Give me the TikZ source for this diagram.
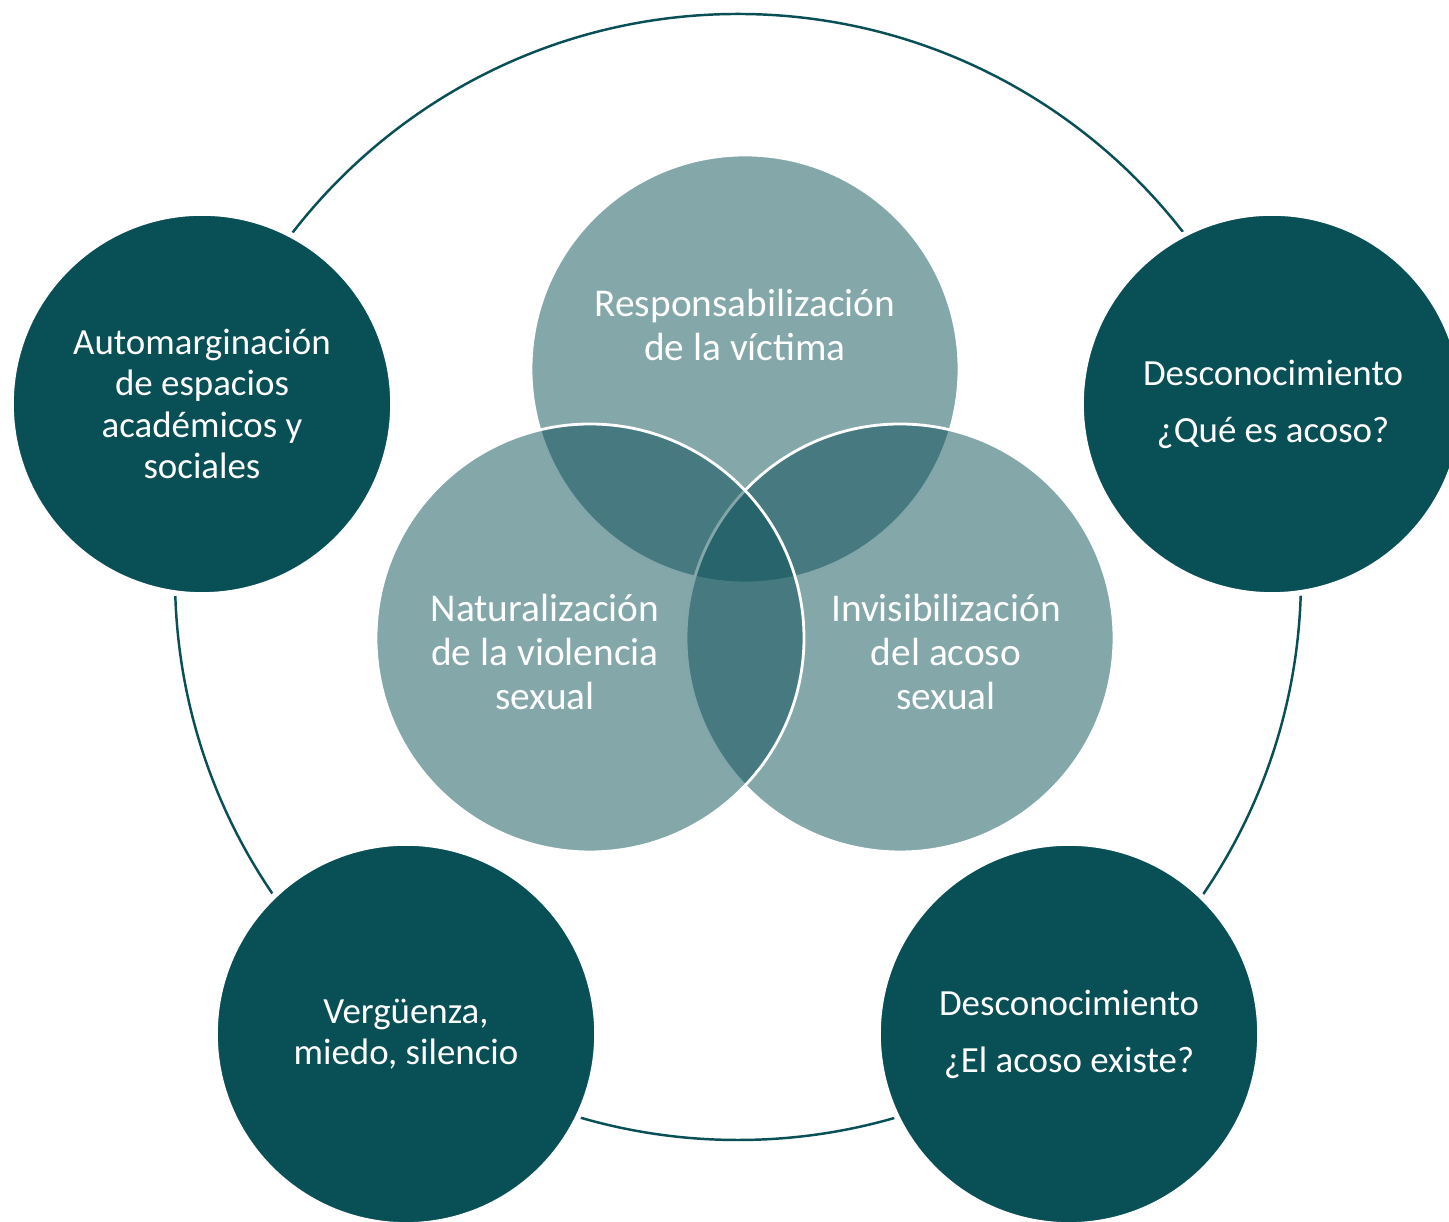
\documentclass[tikz,border=0pt]{standalone}
\usepackage{fontspec}
\setmainfont{Carlito}
\definecolor{petrol}{RGB}{9,79,86}

\begin{document}
\begin{tikzpicture}
[ring/.style={draw=petrol,line width=0.7pt}
,outer/.style={circle,fill=petrol,draw=white,line width=1.6pt,minimum size=3.82cm,inner sep=0pt}
,venn/.style={circle,fill=petrol,fill opacity=0.5,draw=white,draw opacity=1,line width=0.8pt,minimum size=4.28cm,inner sep=0pt}
,otxt/.style={text=white,align=center,font=\fontsize{10.5}{11.7}\selectfont}
,vtxt/.style={text=white,align=center,font=\fontsize{11.2}{12.5}\selectfont}
]
\clip (0,0) rectangle (14.49,12.22);
\node[circle,minimum size=11.26cm,inner sep=0pt] (ring) at (7.38,6.45) {};
\draw[ring] (ring.center) circle (5.63);
% venn circles
\node[venn] (vt) at (7.45,8.53) {};
\node[venn] (vr) at (9.00,5.84) {};
\node[venn] (vl) at (5.90,5.84) {};
\node[vtxt] (tt) at ([yshift=0.44cm]vt.center) {Responsabilización\\de la víctima};
\node[vtxt] (tl) at ([xshift=-0.45cm,yshift=-0.14cm]vl.center) {Naturalización\\de la violencia\\sexual};
\node[vtxt] (tr) at ([xshift=0.46cm,yshift=-0.14cm]vr.center) {Invisibilización\\del acoso\\sexual};
% outer circles
\node[outer] (ctl) at (2.02,8.18) {};
\node[outer] (cr) at (12.72,8.18) {};
\node[outer] (cbl) at (4.06,1.88) {};
\node[outer] (cbr) at (10.69,1.88) {};
\node[otxt] at (ctl.center) {Automarginación\\de espacios\\académicos y\\sociales};
\node[otxt] at ([xshift=0.01cm]cr.center) {Desconocimiento\\[4.5pt]¿Qué es acoso?};
\node[otxt] at (cbl.center) {Vergüenza,\\miedo, silencio};
\node[otxt] at (cbr.center) {Desconocimiento\\[4.5pt]¿El acoso existe?};
\end{tikzpicture}
\end{document}
